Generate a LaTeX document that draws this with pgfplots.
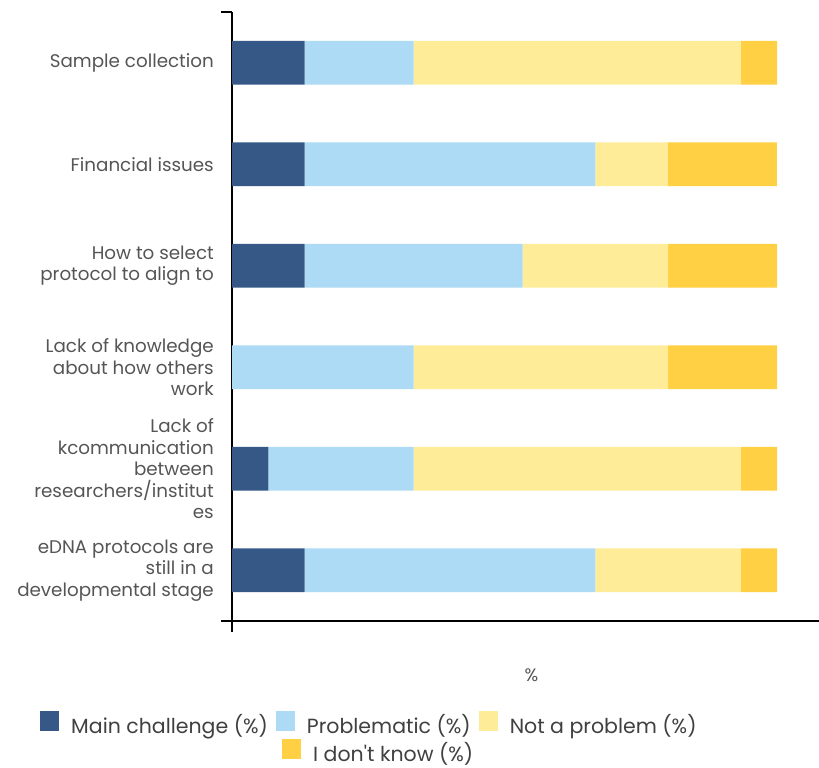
\documentclass[border=0pt]{standalone}
\usepackage{pgfplots}
\pgfplotsset{compat=1.18}
\usepackage{fontspec}
\setmainfont{Poppins}
\definecolor{c1}{RGB}{54,88,135}
\definecolor{c2}{RGB}{173,218,245}
\definecolor{c3}{RGB}{255,236,153}
\definecolor{c4}{RGB}{255,208,68}
\definecolor{lblgray}{RGB}{85,85,85}
\definecolor{leggray}{RGB}{64,64,64}
\begin{document}
\begin{tikzpicture}
\useasboundingbox (0,0) rectangle (819bp,768bp);
\begin{axis}[
  at={(232bp,147bp)}, anchor=south west,
  scale only axis, width=587bp, height=609bp,
  xbar stacked, bar width=0.433,
  xmin=0, xmax=107.7, ymin=-0.5, ymax=5.5,
  axis lines=left, axis line style={-, line width=1.3bp, black},
  xtick={0}, xticklabels={},
  ytick={-0.5,5.5}, yticklabels={},
  tick align=outside, major tick length=11bp,
  tick style={line width=1.3bp, black},
  extra y ticks={0,1,2,3,4,5},
  extra y tick labels={{eDNA protocols are\\still in a\\developmental stage},{Lack of\\kcommunication\\between\\researchers/institut\\es},{Lack of knowledge\\about how others\\work},{How to select\\protocol to align to},{Financial issues},{Sample collection}},
  extra y tick style={major tick length=0bp},
  yticklabel style={font=\fontsize{18.3bp}{21.5bp}\selectfont, text=lblgray, align=right, inner sep=0pt, xshift=-18bp},
  xlabel={\%},
  xlabel style={at={(rel axis cs:0.51,0)}, anchor=center, yshift=-54bp, font=\fontsize{18bp}{21bp}\selectfont, text=lblgray},
  legend entries={Main challenge (\%),Problematic (\%),Not a problem (\%)},
  legend columns=3,
  legend image code/.code={\fill[#1] (0bp,-6bp) rectangle (19bp,14bp);},
  legend style={at={(-0.327,-0.1675)}, anchor=west, draw=none, fill=none, inner sep=0pt,
    nodes={inner sep=0pt, font=\fontsize{20.5bp}{24bp}\selectfont, text=leggray},
    /tikz/every odd column/.append style={column sep=12bp},
    /tikz/every even column/.append style={column sep=8bp}},
]
\addplot[fill=c1, draw=none] coordinates {(13.33,0) (6.67,1) (0,2) (13.33,3) (13.33,4) (13.33,5)};
\addplot[fill=c2, draw=none] coordinates {(53.33,0) (26.67,1) (33.33,2) (40,3) (53.33,4) (20,5)};
\addplot[fill=c3, draw=none] coordinates {(26.67,0) (60,1) (46.67,2) (26.67,3) (13.33,4) (60,5)};
\addplot[fill=c4, draw=none] coordinates {(6.67,0) (6.67,1) (20,2) (20,3) (20,4) (6.67,5)};
\end{axis}
\begin{axis}[
  at={(232bp,147bp)}, anchor=south west,
  scale only axis, width=587bp, height=609bp,
  xmin=0, xmax=1, ymin=0, ymax=1, hide axis,
  legend image code/.code={\fill[#1] (0bp,-6bp) rectangle (19bp,14bp);},
  legend style={at={(0.0852,-0.2135)}, anchor=west, draw=none, fill=none, inner sep=0pt,
    nodes={inner sep=0pt, font=\fontsize{20.5bp}{24bp}\selectfont, text=leggray},
    /tikz/every odd column/.append style={column sep=12bp}},
]
\addlegendimage{fill=c4, draw=none}
\addlegendentry{I don\textquotesingle t know (\%)}
\end{axis}
\end{tikzpicture}
\end{document}
